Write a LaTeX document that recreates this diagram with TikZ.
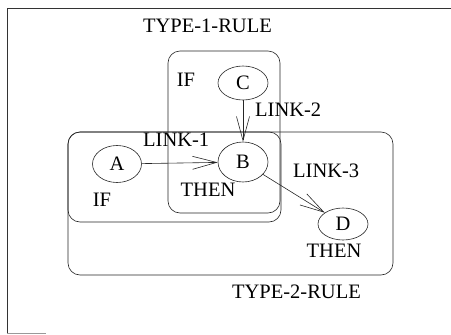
\documentclass[tikz,border=0pt]{standalone}
\usepackage{fontspec}
\setmainfont{Liberation Serif}
\usetikzlibrary{shapes.geometric,arrows.meta}
\tikzset{
  ruleline/.style={line width=0.6pt, draw=black!85},
  rulebox/.style={ruleline, rounded corners=12pt},
  concept/.style={ellipse, ruleline, inner sep=0pt, font=\fontsize{20.5}{24}\selectfont},
  lbl/.style={inner sep=0pt, anchor=base, font=\fontsize{20.5}{24}\selectfont},
  link/.style={ruleline, -{Straight Barb[length=24pt, width=13pt, line width=0.6pt]}}
}
\begin{document}
\begin{tikzpicture}[x=1pt, y=-1pt]
  \useasboundingbox (0,0) rectangle (451,335);
  % outer frame
  \draw[line width=0.7pt, black!80] (7,333) -- (7,8) -- (451,8);
  \draw[line width=0.7pt, black!40] (7,333) -- (46,333);

  % rule boxes
  \draw[rulebox] (168,51) rectangle (280,213);
  \draw[rulebox] (68,132) rectangle (393,275);
  \draw[rulebox] (68,132) rectangle (281,222);

  % concepts
  \node[concept, minimum width=50pt, minimum height=34pt] (C) at (243,83) {C};
  \node[concept, minimum width=50pt, minimum height=40pt] (B) at (243,162) {B};
  \node[concept, minimum width=49pt, minimum height=37pt] (A) at (117,164) {A};
  \node[concept, minimum width=50pt, minimum height=32pt] (D) at (343,224) {D};

  % links
  \draw[link] (A) -- (B);
  \draw[link] (C) -- (B);
  \draw[link] (B) -- (D);

  % labels
  \node[lbl] (t1) at (207.5,32) {TYPE-1-RULE};
  \node[lbl] (if1) at (186,86) {IF};
  \node[lbl, anchor=base west] (l2) at (255,116) {LINK-2};
  \node[lbl, anchor=base west] (l1) at (143,146) {LINK-1};
  \node[lbl] (th1) at (208,196) {THEN};
  \node[lbl] (if2) at (102,206) {IF};
  \node[lbl, anchor=base west] (l3) at (293,177) {LINK-3};
  \node[lbl] (th2) at (334,257) {THEN};
  \node[lbl] (t2) at (296.5,298) {TYPE-2-RULE};
\end{tikzpicture}
\end{document}
